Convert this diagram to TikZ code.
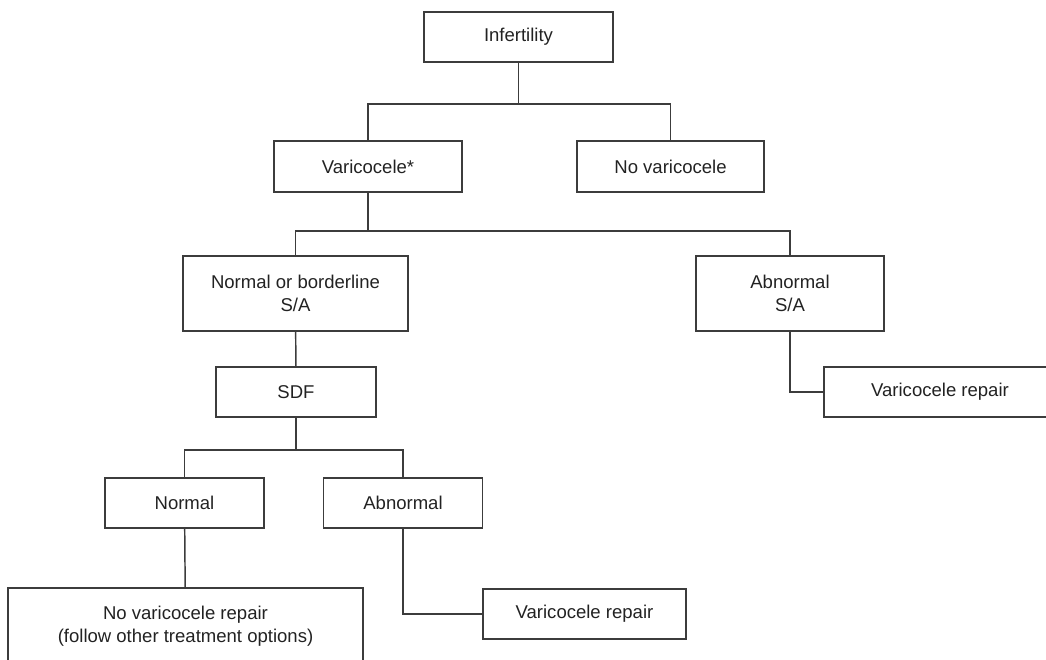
\documentclass[tikz,border=0pt]{standalone}
\usepackage{fontspec}
\setmainfont{Liberation Sans}
\definecolor{linegray}{HTML}{3C3C3C}
\definecolor{textgray}{HTML}{222222}
\begin{document}
\begin{tikzpicture}[x=0.75pt,y=-0.75pt,
  box/.style={draw=linegray,line width=1.1pt,text=textgray,align=center,
    inner sep=0pt,font=\fontsize{13.9}{17}\selectfont},
  link/.style={draw=linegray,line width=1.1pt}]
\useasboundingbox (0,0) rectangle (1046,660);
\clip (0,0) rectangle (1046,660);

   \node[box,minimum width=189*0.75pt,minimum height=50*0.75pt] at (518.5,37)  (inf) {Infertility};
   \node[box,minimum width=188*0.75pt,minimum height=51*0.75pt] at (368,166.5)  (var) {Varicocele*};
   \node[box,minimum width=187*0.75pt,minimum height=51*0.75pt] at (670.5,166.5)  (novar) {No varicocele};
   \node[box,minimum width=225*0.75pt,minimum height=75*0.75pt] at (295.5,293.5)  (nbsa) {Normal or borderline\\S/A};
   \node[box,minimum width=188*0.75pt,minimum height=75*0.75pt] at (790,293.5)  (absa) {Abnormal\\S/A};
   \node[box,minimum width=232*0.75pt,minimum height=50*0.75pt] at (940,392)  (rep1) {Varicocele repair};
   \node[box,minimum width=160*0.75pt,minimum height=50*0.75pt] at (296,392)  (sdf) {SDF};
   \node[box,minimum width=159*0.75pt,minimum height=50*0.75pt] at (184.5,503)  (nor) {Normal};
   \node[box,minimum width=159*0.75pt,minimum height=50*0.75pt] at (403,503)  (abn) {Abnormal};
   \node[box,minimum width=355*0.75pt,minimum height=76*0.75pt] at (185.5,626)  (norep) {No varicocele repair\\(follow other treatment options)};
   \node[box,minimum width=203*0.75pt,minimum height=50*0.75pt] at (584.5,614)  (rep2) {Varicocele repair};

    \coordinate (j1) at (518.5,104);
    \coordinate (j2) at (368,231);
    \coordinate (j3) at (296,450);

    % first split
    \draw[link] (inf) -- (j1);
    \draw[link] (var.north) |- (j1) -| (novar.north);

    % second split
    \draw[link] (var) -- (j2);
    \draw[link] (nbsa.north) |- (j2) -| (absa.north);
    \draw[link] (absa.south) |- (rep1.west);

    \draw[link] (nbsa) -- (sdf);

    % third split
    \draw[link] (sdf) -- (j3);
    \draw[link] (nor.north) |- (j3) -| (abn.north);
    \draw[link] (nor) -- (norep);
    \draw[link] (abn.south) |- (rep2.west);

\end{tikzpicture}
\end{document}
